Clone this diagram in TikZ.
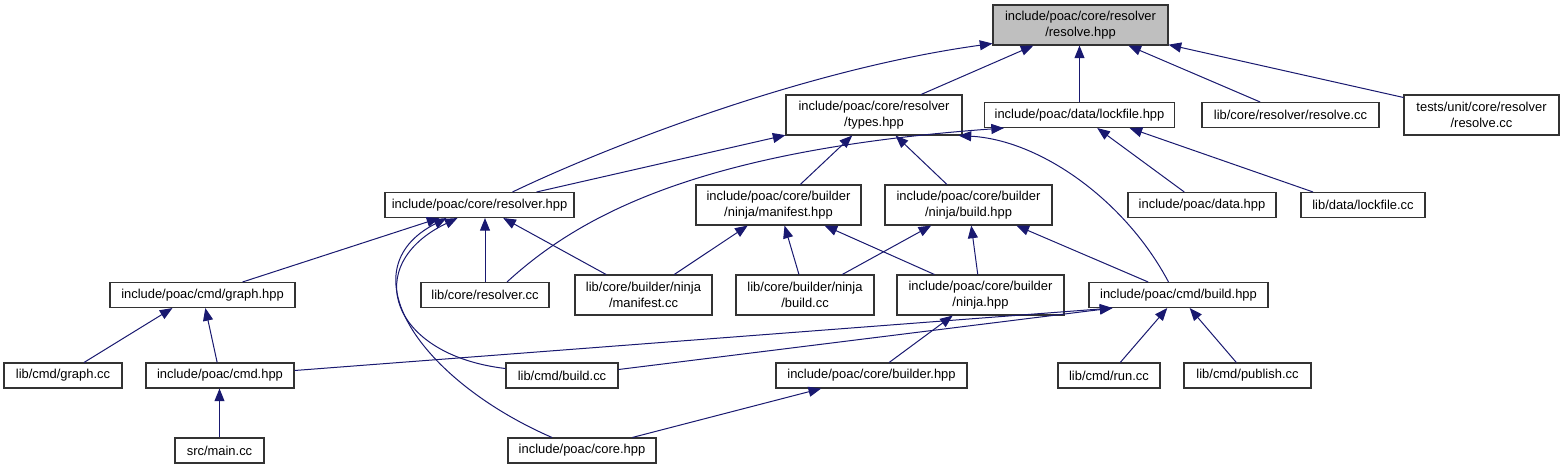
\documentclass[tikz,border=0pt]{standalone}
\usepackage{fontspec}
\setmainfont{Liberation Sans}
\usetikzlibrary{arrows.meta,calc}
\definecolor{edgeblue}{HTML}{191970}
\definecolor{rootgray}{HTML}{BFBFBF}

\begin{document}
\begin{tikzpicture}[
    x=0.75pt, y=-0.75pt,
    file/.style={draw=black!80, rectangle, fill=white, inner sep=0pt, minimum height=18.75pt, align=center, font=\fontsize{9.7}{12}\selectfont, line width=0.8pt},
    twoline/.style={file, minimum height=30pt},
    dep/.style={->, draw=edgeblue, line width=0.75pt, >={Triangle[length=9.5pt,width=7.5pt]}}
]
    \path[use as bounding box, fill=white] (0,0) rectangle (1564,469);

    \node [twoline, fill=rootgray, minimum width=131.25pt] (resolve) at (1080.5,25) {include/poac/core/resolver\\/resolve.hpp};

    \node [twoline, minimum width=132pt] (types) at (874,115) {include/poac/core/resolver\\/types.hpp};
    \node [file, minimum width=142.5pt] (lockfile) at (1079.5,115) {include/poac/data/lockfile.hpp};
    \node [file, minimum width=132.75pt] (resolvecc) at (1290.5,115) {lib/core/resolver/resolve.cc};
    \node [twoline, minimum width=116.25pt] (tests) at (1481.5,115) {tests/unit/core/resolver\\/resolve.cc};

    \node [file, minimum width=141.75pt] (resolver) at (479.5,205) {include/poac/core/resolver.hpp};
    \node [twoline, minimum width=123.75pt] (manifest) at (778.5,205) {include/poac/core/builder\\/ninja/manifest.hpp};
    \node [twoline, minimum width=125.25pt] (ninjabuild) at (968.5,205) {include/poac/core/builder\\/ninja/build.hpp};
    \node [file, minimum width=111pt] (data) at (1202,205) {include/poac/data.hpp};
    \node [file, minimum width=93pt] (lockfilecc) at (1363,205) {lib/data/lockfile.cc};

    \node [file, minimum width=138.75pt] (graph) at (202.5,295) {include/poac/cmd/graph.hpp};
    \node [file, minimum width=96pt] (resolvercc) at (485,295) {lib/core/resolver.cc};
    \node [twoline, minimum width=102.75pt] (manifestcc) at (643.5,295) {lib/core/builder/ninja\\/manifest.cc};
    \node [twoline, minimum width=103.5pt] (ninjabuildcc) at (805,295) {lib/core/builder/ninja\\/build.cc};
    \node [twoline, minimum width=125.25pt] (ninja) at (980.5,295) {include/poac/core/builder\\/ninja.hpp};
    \node [file, minimum width=134.25pt] (cmdbuild) at (1178.5,295) {include/poac/cmd/build.hpp};

    \node [file, minimum width=88.5pt] (graphcc) at (63,375.5) {lib/cmd/graph.cc};
    \node [file, minimum width=111pt] (cmd) at (220,375.5) {include/poac/cmd.hpp};
    \node [file, minimum width=84pt] (buildcc) at (562,375.5) {lib/cmd/build.cc};
    \node [file, minimum width=143.25pt] (builder) at (871.5,375.5) {include/poac/core/builder.hpp};
    \node [file, minimum width=76.5pt] (run) at (1109,375.5) {lib/cmd/run.cc};
    \node [file, minimum width=95.25pt] (publish) at (1247.5,375.5) {lib/cmd/publish.cc};

    \node [file, minimum width=66.75pt] (main) at (219.5,450.5) {src/main.cc};
    \node [file, minimum width=111pt] (core) at (582,450.5) {include/poac/core.hpp};

    \draw [dep] ($(resolver.north)+(33,0)$) .. controls (600,150) and (800,70) .. ($(resolve.south west)+(0,-2)$);
    \draw [dep] (types) -- (resolve);
    \draw [dep] (lockfile.north) -- (lockfile.north |- resolve.south);
    \draw [dep] (resolvecc) -- (resolve);
    \draw [dep] (tests) -- (resolve);

    \draw [dep] (resolver) -- (types);
    \draw [dep] (manifest) -- (types);
    \draw [dep] (ninjabuild) -- (types);
    \draw [dep] ($(cmdbuild.north)+(-10,0)$) .. controls (1125,200) and (1040,140) .. ($(types.south east)+(-4,0)$);

    \draw [dep] ($(resolvercc.north)+(22,0)$) .. controls (580,215) and (700,150) .. ($(lockfile.south west)+(20,0)$);
    \draw [dep] (data) -- (lockfile);
    \draw [dep] ($(lockfilecc.north)+(-50,0)$) -- ($(lockfile.south)+(50,0)$);

    \draw [dep] (graph) -- (resolver);
    \draw [dep] (resolvercc.north) -- (resolvercc.north |- resolver.south);
    \draw [dep] (manifestcc) -- (resolver);
    \draw [dep] ($(buildcc.west)+(0,-7)$) .. controls (390,355) and (360,265) .. ($(resolver.south)+(-22,0)$);
    \draw [dep] ($(core.north)+(-30,0)$) .. controls (420,380) and (345,270) .. ($(resolver.south)+(-33,0)$);

    \draw [dep] (manifestcc) -- (manifest);
    \draw [dep] (ninjabuildcc) -- (manifest);
    \draw [dep] (ninja) -- (manifest);
    \draw [dep] (ninjabuildcc) -- (ninjabuild);
    \draw [dep] (ninja) -- (ninjabuild);
    \draw [dep] (cmdbuild) -- (ninjabuild);

    \draw [dep] ($(graphcc.north)+(21,0)$) -- ($(graph.south)+(-30,0)$);
    \draw [dep] (cmd) -- (graph);
    \draw [dep] (builder) -- (ninja);
    \draw [dep] ($(cmd.east)+(0,-5)$) -- ($(cmdbuild.south west)+(24,0)$);
    \draw [dep] ($(buildcc.east)+(0,-6)$) -- ($(cmdbuild.south west)+(24,0)$);
    \draw [dep] (run) -- (cmdbuild);
    \draw [dep] (publish) -- (cmdbuild);

    \draw [dep] (main.north) -- (main.north |- cmd.south);
    \draw [dep] (core) -- (builder);

\end{tikzpicture}
\end{document}
